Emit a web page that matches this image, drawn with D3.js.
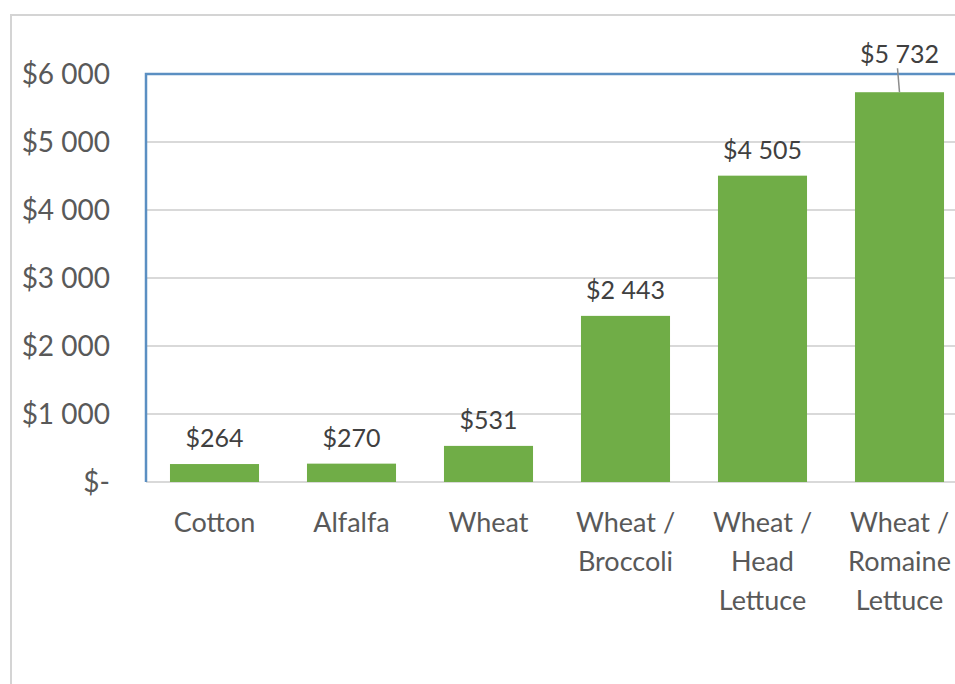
<!DOCTYPE html>
<html>
<head>
<meta charset="utf-8">
<script src="https://cdn.jsdelivr.net/npm/d3@7"></script>
<style>
  html, body { margin: 0; padding: 0; background: #fff; }
  svg { display: block; }
  svg text { font-family: Lato, "Open Sans", sans-serif; }
</style>
</head>
<body>
<svg id="chart" width="955" height="684"></svg>
<script>
// Net return per acre by crop rotation
const categories = [
  ["Cotton"],
  ["Alfalfa"],
  ["Wheat"],
  ["Wheat /", "Broccoli"],
  ["Wheat /", "Head", "Lettuce"],
  ["Wheat /", "Romaine", "Lettuce"]
];
const values = [264, 270, 531, 2443, 4505, 5732];
const yTicks = [0, 1000, 2000, 3000, 4000, 5000, 6000];

const svg = d3.select("#chart");

// Outer chart frame (extends past the right/bottom edge)
svg.append("rect")
  .attr("x", 11).attr("y", 15)
  .attr("width", 1000).attr("height", 700)
  .attr("fill", "none")
  .attr("stroke", "#d4d4d4")
  .attr("stroke-width", 2);

const plot = { left: 146, top: 74, bottom: 482, right: 968 };

const x = d3.scaleBand()
  .domain(d3.range(categories.length))
  .range([plot.left, plot.right])
  .paddingInner(0.35)
  .paddingOuter(0.175);

const y = d3.scaleLinear()
  .domain([0, 6000])
  .range([plot.bottom, plot.top]);

const money = v => v === 0 ? "$-" : "$" + d3.format(",")(v).replace(/,/g, " ");

// Horizontal gridlines
svg.append("g")
  .selectAll("line")
  .data(yTicks)
  .join("line")
  .attr("x1", plot.left).attr("x2", 955)
  .attr("y1", d => y(d)).attr("y2", d => y(d))
  .attr("stroke", "#d9d9d9")
  .attr("stroke-width", 2);

// Y axis labels
const yAxis = d3.axisLeft(y).tickValues(yTicks).tickFormat(money).tickSize(0).tickPadding(0);
const gy = svg.append("g")
  .attr("transform", `translate(110,0)`)
  .call(yAxis)
  .attr("font-family", null)
  .attr("font-size", null);
gy.select(".domain").remove();
gy.selectAll("text")
  .attr("fill", "#595959")
  .style("font-size", "28px")
  .attr("dy", "0.35em");

// Bars
svg.append("g")
  .selectAll("rect")
  .data(values)
  .join("rect")
  .attr("x", (d, i) => x(i))
  .attr("y", d => y(d))
  .attr("width", x.bandwidth())
  .attr("height", d => y(0) - y(d))
  .attr("fill", "#70ad47");

// Blue plot-area outline (top and left edges)
svg.append("path")
  .attr("d", `M${plot.left},${plot.bottom} V${plot.top} H955`)
  .attr("fill", "none")
  .attr("stroke", "#5b8fc2")
  .attr("stroke-width", 2.5);

// Data labels
const last = values.length - 1;
const labelY = (d, i) => i === last ? y(d) - 29 : y(d) - 17;
svg.append("g")
  .selectAll("text")
  .data(values)
  .join("text")
  .attr("x", (d, i) => x(i) + x.bandwidth() / 2)
  .attr("y", labelY)
  .attr("text-anchor", "middle")
  .attr("fill", "#404040")
  .style("font-size", "25px")
  .text(money);

// Leader line for the label lifted above the frame
svg.append("line")
  .attr("x1", x(last) + x.bandwidth() / 2 - 2)
  .attr("y1", y(values[last]) - 24)
  .attr("x2", x(last) + x.bandwidth() / 2)
  .attr("y2", y(values[last]))
  .attr("stroke", "#8c8c8c")
  .attr("stroke-width", 1.5);

// Category labels (multi-line)
const cat = svg.append("g")
  .selectAll("text")
  .data(categories)
  .join("text")
  .attr("x", (d, i) => x(i) + x.bandwidth() / 2)
  .attr("y", 523)
  .attr("text-anchor", "middle")
  .attr("fill", "#595959")
  .style("font-size", "27px");
cat.selectAll("tspan")
  .data(d => d)
  .join("tspan")
  .attr("x", function () { return d3.select(this.parentNode).attr("x"); })
  .attr("dy", (d, j) => j === 0 ? "0.35em" : 39)
  .text(d => d);
</script>
</body>
</html>
